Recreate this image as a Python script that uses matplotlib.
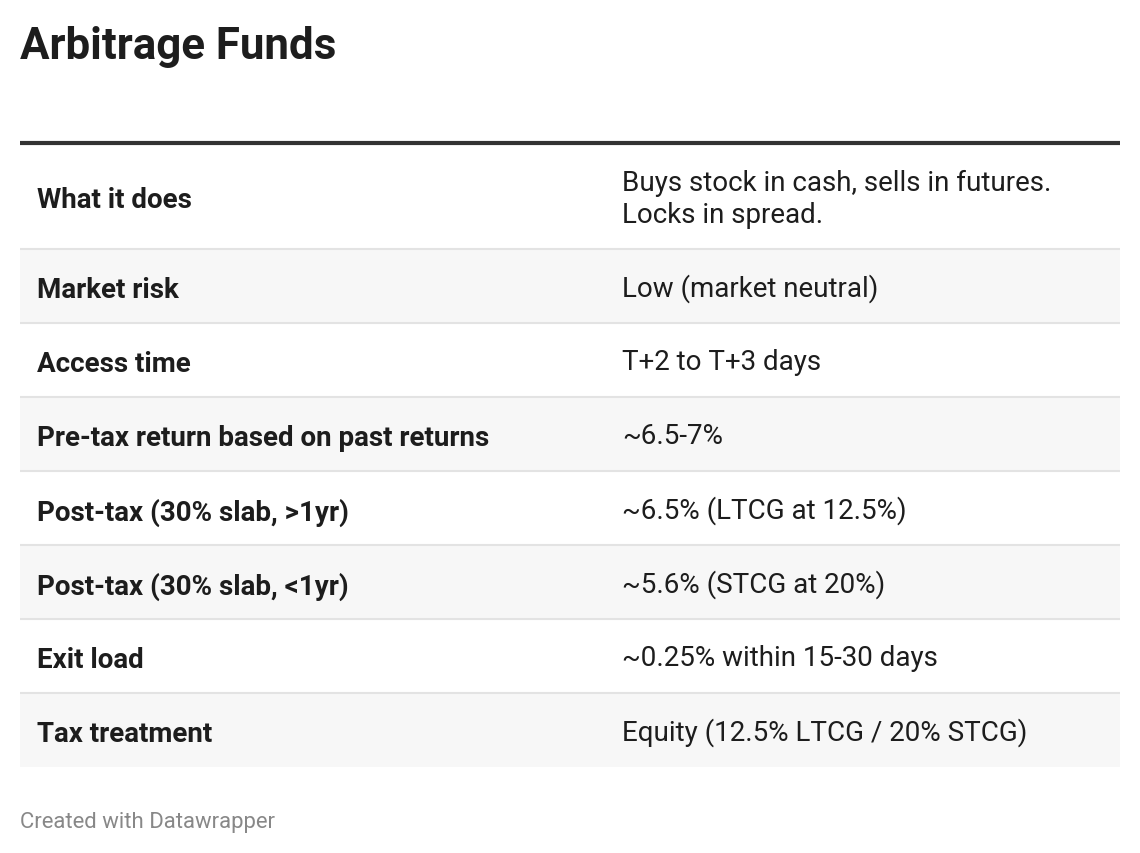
import matplotlib.pyplot as plt
from matplotlib.patches import Rectangle

plt.rcParams['font.family'] = ['Roboto', 'DejaVu Sans']

title = "Arbitrage Funds"
labels = [
    "What it does",
    "Market risk",
    "Access time",
    "Pre-tax return based on past returns",
    "Post-tax (30% slab, >1yr)",
    "Post-tax (30% slab, <1yr)",
    "Exit load",
    "Tax treatment",
]
values = [
    "Buys stock in cash, sells in futures.\nLocks in spread.",
    "Low (market neutral)",
    "T+2 to T+3 days",
    "~6.5-7%",
    "~6.5% (LTCG at 12.5%)",
    "~5.6% (STCG at 20%)",
    "~0.25% within 15-30 days",
    "Equity (12.5% LTCG / 20% STCG)",
]
footer = "Created with Datawrapper"

W, H = 1140, 854
fig = plt.figure(figsize=(W / 100, H / 100), dpi=100)
ax = fig.add_axes([0, 0, 1, 1])
ax.set_xlim(0, W)
ax.set_ylim(H, 0)
ax.axis('off')

left, right = 20, 1120
col2 = 622
top = 145
row_h = [105] + [74] * 7

ax.text(left, 47, title, fontsize=31.6, fontweight='bold', color='#1d1d1d', va='center', ha='left')

y = top
for i, (lab, val) in enumerate(zip(labels, values)):
    h = row_h[i]
    if i % 2 == 1:
        ax.add_patch(Rectangle((left, y), right - left, h, facecolor='#f7f7f7', edgecolor='none'))
    cy = y + h / 2 + 2
    ax.text(left + 17, cy + 1.5, lab, fontsize=20, fontweight='bold', color='#1d1d1d', va='center', ha='left')
    ax.text(col2, cy, val, fontsize=20, color='#1d1d1d', va='center', ha='left', linespacing=1.22)
    y += h
    if i < len(labels) - 1:
        ax.plot([left, right], [y, y], color='#e3e3e3', lw=1.5, solid_capstyle='butt')

ax.plot([left, right], [top - 1, top - 1], color='#333333', lw=3, solid_capstyle='butt')

ax.text(left, 823, footer, fontsize=15.9, color='#888888', va='center', ha='left')

fig.savefig('out.png', dpi=100, facecolor='white')
